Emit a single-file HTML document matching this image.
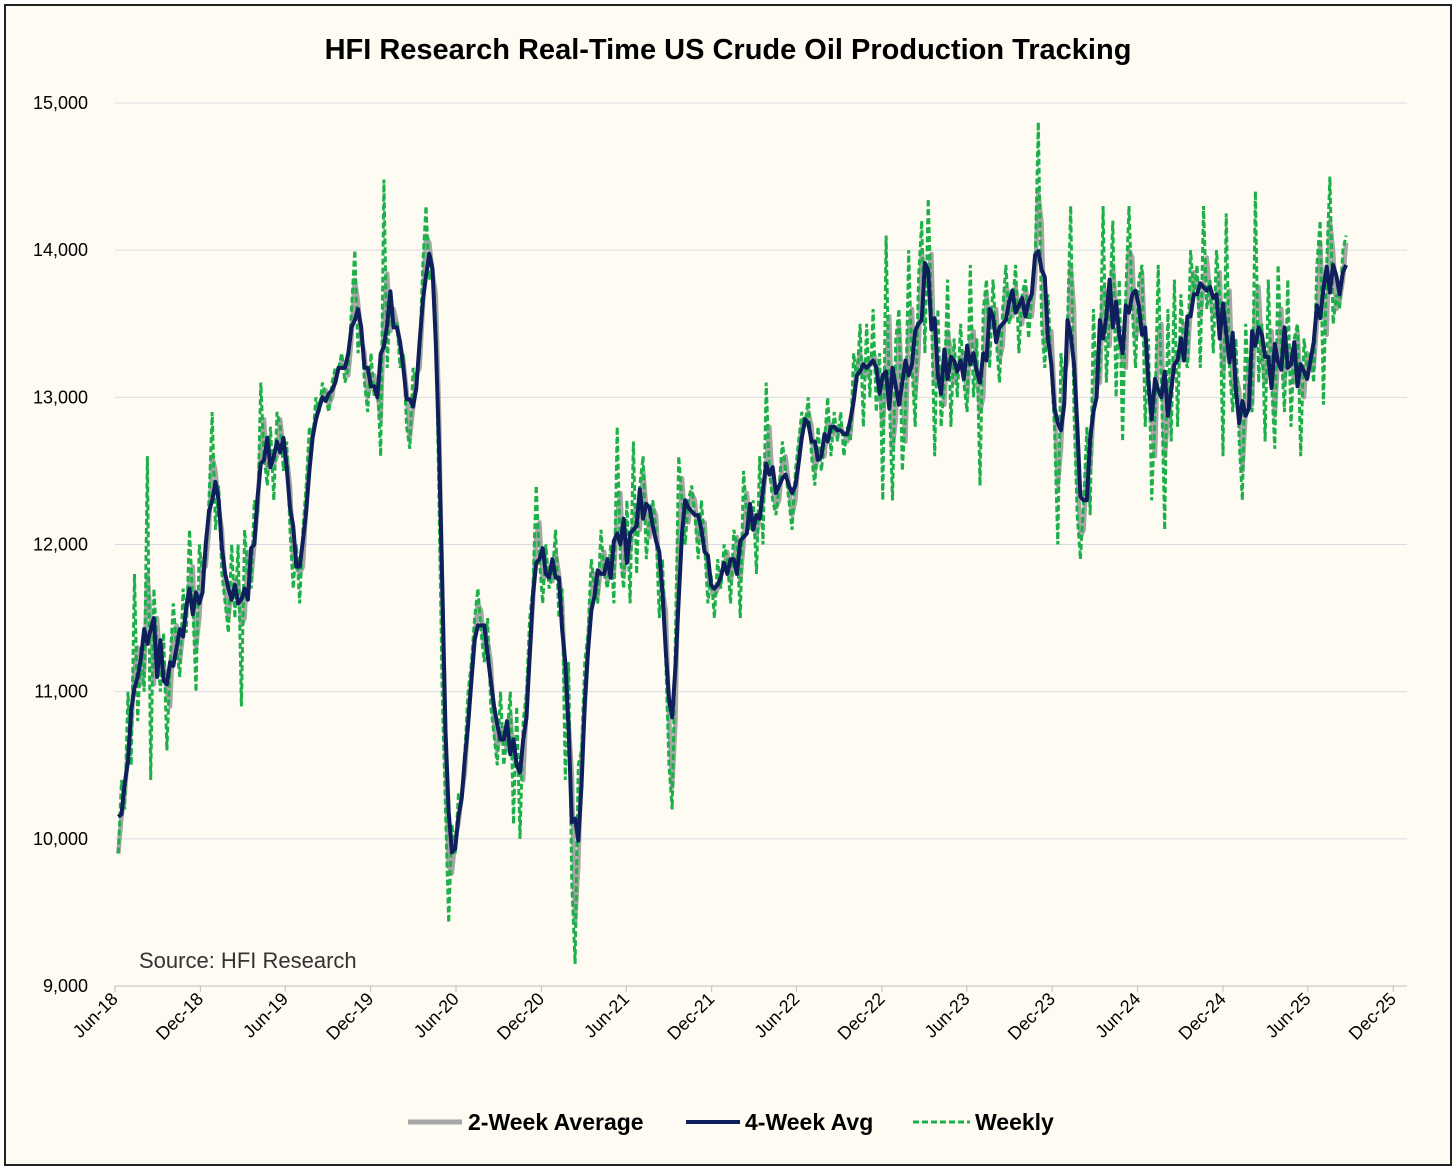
<!DOCTYPE html>
<html><head><meta charset="utf-8"><style>
html,body{margin:0;padding:0;background:#fff;}
#wrap{position:relative;width:1456px;height:1176px;background:#fff;}
svg{position:absolute;left:0;top:0;font-family:"Liberation Sans",sans-serif;}
</style></head><body>
<div id="wrap">
<svg id="chart" width="1456" height="1176">
<rect x="5" y="5" width="1446" height="1160" fill="#fdfbf2" stroke="#222" stroke-width="2"/>
<text x="728" y="59" text-anchor="middle" font-size="29" font-weight="bold" fill="#000">HFI Research Real-Time US Crude Oil Production Tracking</text>
<g id="grid"></g>
<g id="yaxis"></g>
<g id="xaxis"></g>
<g id="series"></g>
<text x="139" y="968" font-size="22" fill="#333">Source: HFI Research</text>
<g>
<g><line x1="408" y1="1122" x2="462" y2="1122" stroke="#a6a6a6" stroke-width="5"/><text x="468" y="1130" font-size="23" font-weight="bold">2-Week Average</text></g>
<g><line x1="686" y1="1122" x2="740" y2="1122" stroke="#0f1f5c" stroke-width="4"/><text x="745" y="1130" font-size="23" font-weight="bold">4-Week Avg</text></g>
<g><line x1="913" y1="1122" x2="970" y2="1122" stroke="#1db04a" stroke-width="3" stroke-dasharray="6,3"/><text x="975" y="1130" font-size="23" font-weight="bold">Weekly</text></g>
</g>
</svg>
</div>
<script>
const yTicks=[9000,10000,11000,12000,13000,14000,15000];
const xTickLabels=["Jun-18","Dec-18","Jun-19","Dec-19","Jun-20","Dec-20","Jun-21","Dec-21","Jun-22","Dec-22","Jun-23","Dec-23","Jun-24","Dec-24","Jun-25","Dec-25"];
const startDate="2018-06-08";
const endDate="2025-08-22";
const weekly=[
9900,10400,10200,11000,10500,11800,10800,11300,11000,
12600,10400,11700,11300,11000,11400,10600,11200,11600,
11300,11100,11700,11400,12100,11600,11000,12000,11800,
11900,12300,12900,12100,12400,11800,11600,11400,12000,11500,
12000,10900,12100,11800,11700,12300,12200,13100,12600,
12400,12800,12300,12900,12800,12500,12700,12100,11700,
12000,11600,12100,12400,12800,12700,13000,12900,
13100,13000,12900,13100,13200,13200,13300,13100,13200,13600,14000,13300,
13500,13100,12900,13300,13000,13100,12600,14480,13200,13700,13500,
13500,13200,13300,12800,12650,13200,13100,13300,13900,14300,13800,13900,
13500,12300,11000,10200,9430,10100,
9900,10300,10300,10600,11000,11200,11500,11700,11400,11200,11500,
10900,10700,10500,11000,10500,10700,11000,10100,10900,
10000,10800,11000,11500,11700,12400,11900,11600,12000,
11700,11800,12100,11500,11700,10400,11200,9700,9150,
10500,10600,11200,11400,11900,11700,11600,12100,11800,11700,
12000,11600,12800,11900,11700,12300,11600,12700,11800,
12400,12600,11900,12200,12300,12100,11500,11900,11200,
10500,10200,11400,12600,12300,12000,12300,
12400,12200,11900,12300,12000,11600,11800,11500,11900,
11700,12000,11900,11600,12100,12000,11500,12500,12200,
12100,12300,11800,12600,12000,13100,12500,12300,12200,
12400,12700,12500,12300,12100,12500,12700,12900,12800,13000,
12600,12400,12800,12500,12700,13000,12600,12900,12700,
12900,12600,12800,12700,13300,13100,13500,12800,13500,
13000,13600,12900,13300,12300,14100,13000,12300,13400,
13600,12500,12900,14000,13200,12800,13800,14200,13300,14350,13600,
12600,13600,12800,13100,13800,12800,13400,13000,13500,13100,12900,
13900,13000,13400,12400,13600,13800,13200,13800,13400,13100,13600,
13900,13500,13600,13900,13300,13700,13800,13400,13700,13900,14870,
13500,13200,13700,13200,12800,12000,13300,13000,13500,14300,12900,
12200,11900,12300,12800,12200,13600,13000,13200,14300,13100,13600,
14200,13000,13800,12700,13700,14300,13600,13200,13800,13900,12800,
13400,12300,12900,13900,13100,12100,13600,12700,13800,12800,13700,
13300,13200,14000,13700,13900,13200,14300,13600,13800,13300,14000,
13700,12600,14250,13200,12900,13400,12700,12300,13500,13000,12900,
14400,13100,13500,12700,13800,13100,12650,13900,13300,12900,13800,
12800,13400,13500,12600,13400,13200,13300,13100,13900,
14200,12950,13900,14500,13500,13700,13600,14000,14100];

const NS="http://www.w3.org/2000/svg";
const X0=115,PXD=0.4665,Y0=986,Y1=103,VMIN=9000,VMAX=15000;
const base=new Date("2018-06-01T00:00:00Z");
function xOfDate(d){return X0+(d-base)/86400000*PXD;}
function y(v){return Y0-(v-VMIN)/(VMAX-VMIN)*(Y0-Y1);}
function mk(tag,attrs,parent){const e=document.createElementNS(NS,tag);for(const k in attrs)e.setAttribute(k,attrs[k]);parent.appendChild(e);return e;}
const grid=document.getElementById('grid'),ya=document.getElementById('yaxis'),xa=document.getElementById('xaxis'),ser=document.getElementById('series');
yTicks.forEach(v=>{
  if(v>VMIN){const l=mk('line',{x1:115,x2:1407,y1:y(v),y2:y(v),stroke:'#d9dde3','stroke-width':1},grid);
  
  }
  const t=mk('text',{x:88,y:y(v)+6,'text-anchor':'end','font-size':18,fill:'#000'},ya);
  t.textContent=v.toLocaleString('en-US');
  
  
});
mk('line',{x1:115,x2:1407,y1:Y0,y2:Y0,stroke:'#bfbfbf','stroke-width':1},xa);
const mon={Jun:5,Dec:11};
xTickLabels.forEach(s=>{
  const [m,yy]=s.split('-');const d=new Date(Date.UTC(2000+ +yy,mon[m],1));
  const x=xOfDate(d);
  mk('line',{x1:x,x2:x,y1:Y0,y2:Y0+6,stroke:'#bfbfbf'},xa);
  const t=mk('text',{x:x+4,y:Y0+14,'text-anchor':'end','font-size':18,transform:`rotate(-45 ${x+4} ${Y0+14})`},xa);
  t.textContent=s;
  
  
});
const xs0=xOfDate(new Date(startDate+"T00:00:00Z")),xs1=xOfDate(new Date(endDate+"T00:00:00Z"));
const xs=weekly.map((_,i)=>xs0+i*(xs1-xs0)/(weekly.length-1));
function avg(lo,hi){return weekly.map((_,i)=>{let s=0,c=0;for(let k=Math.max(0,i-lo);k<=Math.min(weekly.length-1,i+hi);k++){s+=weekly[k];c++;}return s/c;});}
const twoWeek=avg(1,0),fourWeek=avg(2,1);
function path(vals){return vals.map((v,i)=>(i?'L':'M')+xs[i].toFixed(1)+','+y(v).toFixed(1)).join('');}
const p2=mk('path',{d:path(twoWeek),fill:'none',stroke:'#a6a6a6','stroke-width':4.5,'stroke-linejoin':'round'},ser);


const pw=mk('path',{d:path(weekly),fill:'none',stroke:'#1db04a','stroke-width':3,'stroke-dasharray':'6,3'},ser);


const p4=mk('path',{d:path(fourWeek),fill:'none',stroke:'#0f1f5c','stroke-width':4,'stroke-linejoin':'round'},ser);


</script>
</body></html>
